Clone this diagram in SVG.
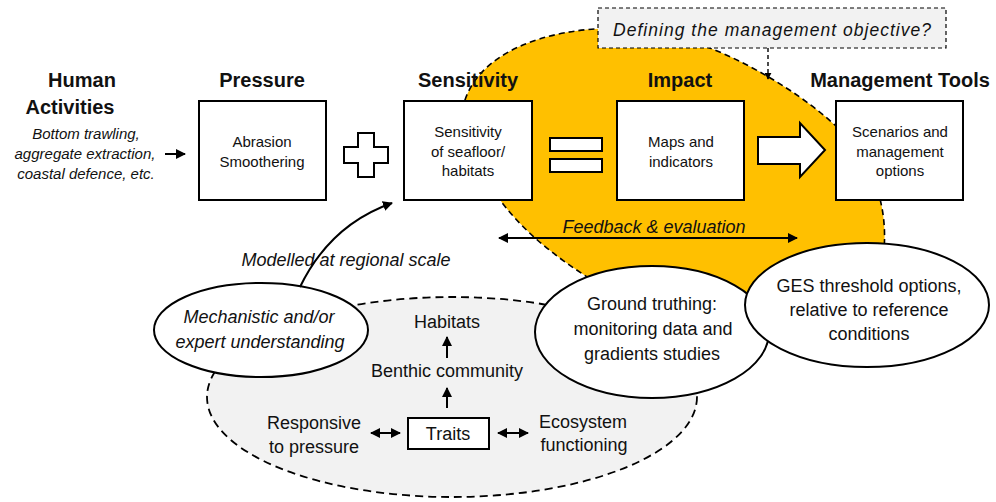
<svg xmlns="http://www.w3.org/2000/svg" width="996" height="502" viewBox="0 0 996 502">
<style>
text{font-family:"Liberation Sans",Arial,sans-serif;fill:#111}
.t{font-size:20px;font-weight:bold;text-anchor:middle}
.b{font-size:15px;text-anchor:middle}
.n{font-size:18px;text-anchor:middle}
.i{font-style:italic}
.box{fill:#fff;stroke:#000;stroke-width:2}
.ln{fill:none;stroke:#000;stroke-width:2}
.ell{fill:#fff;stroke:#000;stroke-width:2}
</style>
<defs>
<marker id="ah" viewBox="0 0 10 10" refX="9" refY="5" markerWidth="5" markerHeight="5" orient="auto-start-reverse"><path d="M0,0L10,5L0,10z" fill="#000"/></marker>
</defs>
<rect width="996" height="502" fill="#fff"/>
<g id="blob">
<path d="M465,100 C480,55 540,28 620,28 C700,28 800,90 840,130 C870,160 888,200 884,250 L750,300 L625,300 C570,268 530,240 500,200 Z" fill="#FFC000" stroke="#000" stroke-width="1.6" stroke-dasharray="6,4"/>
</g>
<g id="traits-area">
<ellipse cx="452" cy="397" rx="245" ry="100" fill="#f2f2f2" stroke="#000" stroke-width="1.8" stroke-dasharray="8,5"/>
</g>
<g id="mechanistic">
<ellipse class="ell" cx="261" cy="330" rx="107" ry="47"/>
<text class="n i" x="259" y="323">Mechanistic and/or</text>
<text class="n i" x="260" y="348">expert understanding</text>
</g>
<g id="ground-truthing">
<ellipse class="ell" cx="652" cy="332" rx="117" ry="66"/>
<text class="n" x="652" y="310">Ground truthing:</text>
<text class="n" x="653" y="335">monitoring data and</text>
<text class="n" x="652" y="360">gradients studies</text>
</g>
<g id="ges">
<ellipse class="ell" cx="867" cy="305" rx="122" ry="62"/>
<text class="n" x="869" y="292">GES threshold options,</text>
<text class="n" x="869" y="316">relative to reference</text>
<text class="n" x="869" y="340">conditions</text>
</g>
<g id="human-activities">
<text class="t" x="82" y="87">Human</text>
<text class="t" x="70" y="114">Activities</text>
<text class="b i" x="86" y="139">Bottom trawling,</text>
<text class="b i" x="85" y="159">aggregate extraction,</text>
<text class="b i" x="86" y="179">coastal defence, etc.</text>
</g>
<g id="pressure">
<text class="t" x="262" y="87">Pressure</text>
<rect class="box" x="199" y="101" width="127" height="99"/>
<text class="b" x="262" y="147">Abrasion</text>
<text class="b" x="262" y="167">Smoothering</text>
</g>
<g id="plus">
<polygon class="box" points="358,133 374,133 374,147 388,147 388,163 374,163 374,177 358,177 358,163 344,163 344,147 358,147"/>
</g>
<g id="sensitivity">
<text class="t" x="468" y="87">Sensitivity</text>
<rect class="box" x="404" y="101" width="128" height="99"/>
<text class="b" x="468" y="137">Sensitivity</text>
<text class="b" x="468" y="157">of seafloor/</text>
<text class="b" x="468" y="176">habitats</text>
</g>
<g id="equals">
<rect class="box" x="550" y="138" width="52" height="13"/>
<rect class="box" x="550" y="159" width="52" height="13"/>
</g>
<g id="impact">
<text class="t" x="680" y="87">Impact</text>
<rect class="box" x="617" y="101" width="127" height="99"/>
<text class="b" x="681" y="147">Maps and</text>
<text class="b" x="681" y="167">indicators</text>
</g>
<g id="big-arrow">
<polygon class="box" points="758,137 800,137 800,123 825,150 800,177 800,164 758,164"/>
</g>
<g id="management">
<text class="t" x="900" y="87">Management Tools</text>
<rect class="box" x="836" y="101" width="127" height="99"/>
<text class="b" x="900" y="137">Scenarios and</text>
<text class="b" x="900" y="157">management</text>
<text class="b" x="900" y="176">options</text>
</g>
<g id="objective">
<rect x="598" y="8" width="348" height="40" fill="#f2f2f2" stroke="#000" stroke-width="1.2" stroke-dasharray="4,3"/>
<text class="n i" x="772" y="36" style="font-size:17.5px" textLength="318" lengthAdjust="spacing">Defining the management objective?</text>
</g>
<g id="inner">
<text class="n" x="447" y="328">Habitats</text>
<text class="n" x="447" y="377">Benthic community</text>
<rect class="box" x="408" y="418" width="81" height="31"/>
<text class="n" x="448" y="440">Traits</text>
<text class="n" x="314" y="429">Responsive</text>
<text class="n" x="314" y="453">to pressure</text>
<text class="n" x="583" y="428">Ecosystem</text>
<text class="n" x="584" y="451">functioning</text>
</g>
<g id="labels">
<text class="n i" x="346" y="266">Modelled at regional scale</text>
<text class="n i" x="654" y="233">Feedback &amp; evaluation</text>
</g>
<g id="connectors">
<line class="ln" x1="165" y1="154" x2="185" y2="154" marker-end="url(#ah)"/>
<line x1="768" y1="48" x2="768" y2="79" stroke="#000" stroke-width="1.4" stroke-dasharray="4,3" marker-end="url(#ah)"/>
<line class="ln" x1="499" y1="238" x2="797" y2="238" marker-start="url(#ah)" marker-end="url(#ah)"/>
<path class="ln" d="M300,287 Q330,225 392,203" marker-end="url(#ah)"/>
<line class="ln" x1="447" y1="358" x2="447" y2="337" marker-end="url(#ah)"/>
<line class="ln" x1="447" y1="408" x2="447" y2="388" marker-end="url(#ah)"/>
<line class="ln" x1="371" y1="433" x2="400" y2="433" marker-start="url(#ah)" marker-end="url(#ah)"/>
<line class="ln" x1="498" y1="433" x2="528" y2="433" marker-start="url(#ah)" marker-end="url(#ah)"/>
</g>
</svg>
